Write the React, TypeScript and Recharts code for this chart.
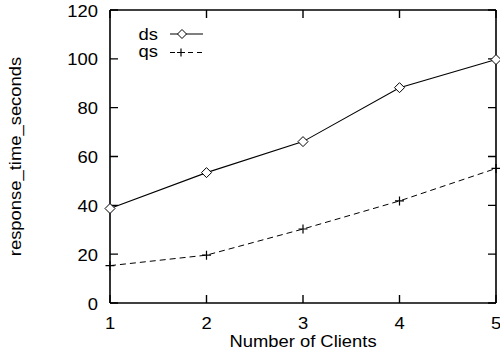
import { Legend, Line, LineChart, ReferenceLine, XAxis, YAxis } from 'recharts'

const clients = [1, 2, 3, 4, 5]
const dsTimes = [38.7, 53.4, 66.1, 88.2, 99.7]
const qsTimes = [15.3, 19.6, 30.3, 41.8, 55.1]
const xTicks = [1, 2, 3, 4, 5]
const yTicks = [0, 20, 40, 60, 80, 100, 120]

const data = clients.map((c, i) => ({ clients: c, ds: dsTimes[i], qs: qsTimes[i] }))

const FONT = '"Liberation Sans", Arial, Helvetica, sans-serif'
const SX = 1.15 // glyphs are a bit wider than plain Arial
const TICK = 8

type TxtProps = {
  x: number
  y: number
  anchor?: 'start' | 'middle' | 'end'
  rotate?: boolean
  children: string | number
}

const Txt = ({ x, y, anchor = 'middle', rotate, children }: TxtProps) => (
  <text
    transform={`translate(${x},${y})${rotate ? ' rotate(-90)' : ''} scale(${SX},1)`}
    textAnchor={anchor}
    fontFamily={FONT}
    fontSize={16}
    fill="#000"
  >
    {children}
  </text>
)

const BottomLabel = (props: any) => (
  <Txt x={props.x} y={props.y + 26}>{props.payload.value}</Txt>
)

const LeftLabel = (props: any) => (
  <Txt x={props.x - 12} y={props.y + 6.5} anchor="end">{props.payload.value}</Txt>
)

// short inward marks at both ends of a reference line (gnuplot mirrored ticks)
const VTicks = (p: any) => {
  const top = Math.min(p.y1, p.y2)
  const bot = Math.max(p.y1, p.y2)
  return (
    <path
      d={`M${p.x1},${bot}V${bot - TICK}M${p.x1},${top}V${top + TICK}`}
      stroke="#000"
      strokeWidth={1.4}
    />
  )
}

const HTicks = (p: any) => {
  const left = Math.min(p.x1, p.x2)
  const right = Math.max(p.x1, p.x2)
  return (
    <path
      d={`M${left},${p.y1}H${left + TICK}M${right},${p.y1}H${right - TICK}`}
      stroke="#000"
      strokeWidth={1.4}
    />
  )
}

const Diamond = ({ cx, cy, size = 5 }: any) => (
  <path
    d={`M${cx},${cy - size}L${cx + size},${cy}L${cx},${cy + size}L${cx - size},${cy}Z`}
    fill="#fff"
    stroke="#000"
    strokeWidth={1}
  />
)

const Plus = ({ cx, cy, size = 4.5 }: any) => (
  <path
    d={`M${cx - size},${cy}H${cx + size}M${cx},${cy - size}V${cy + size}`}
    stroke="#000"
    strokeWidth={1.2}
    fill="none"
  />
)

const KeyBox = () => (
  <svg width={220} height={70} style={{ display: 'block' }}>
    <Txt x={158} y={40} anchor="end">ds</Txt>
    <line x1={170} y1={34} x2={203} y2={34} stroke="#000" strokeWidth={1.2} />
    <Diamond cx={182} cy={34} size={4.5} />
    <Txt x={158} y={57} anchor="end">qs</Txt>
    <line
      x1={170}
      y1={52.5}
      x2={203}
      y2={52.5}
      stroke="#000"
      strokeWidth={1}
      strokeDasharray="5 4"
    />
    <Plus cx={181} cy={52.5} size={4} />
  </svg>
)

const YTitle = ({ viewBox }: any) => (
  <Txt x={21} y={viewBox.y + viewBox.height / 2} rotate>
    response_time_seconds
  </Txt>
)

const XTitle = ({ viewBox }: any) => (
  <Txt x={viewBox.x + viewBox.width / 2} y={347}>
    Number of Clients
  </Txt>
)

export default function App() {
  return (
    <div style={{ position: 'absolute', left: 0, top: 0, background: '#fff' }}>
      <LineChart
        width={500}
        height={355}
        data={data}
        margin={{ top: 10, right: 4, bottom: 0, left: 0 }}
      >
        <XAxis
          dataKey="clients"
          type="number"
          domain={[1, 5]}
          ticks={xTicks}
          interval={0}
          height={52}
          tickSize={0}
          tickMargin={0}
          tickLine={false}
          tick={BottomLabel}
          axisLine={false}
          label={XTitle}
        />
        <YAxis
          type="number"
          domain={[0, 120]}
          ticks={yTicks}
          interval={0}
          width={110}
          tickSize={0}
          tickMargin={0}
          tickLine={false}
          tick={LeftLabel}
          axisLine={false}
          label={YTitle}
        />
        {xTicks.map((t) => (
          <ReferenceLine key={`xt${t}`} x={t} shape={VTicks} />
        ))}
        {yTicks.map((t) => (
          <ReferenceLine key={`yt${t}`} y={t} shape={HTicks} />
        ))}
        {/* plot border */}
        <ReferenceLine x={1} stroke="#000" strokeWidth={1.6} />
        <ReferenceLine x={5} stroke="#000" strokeWidth={1.6} />
        <ReferenceLine y={0} stroke="#000" strokeWidth={1.6} />
        <ReferenceLine y={120} stroke="#000" strokeWidth={1.6} />
        <Legend
          layout="horizontal"
          verticalAlign="middle"
          align="center"
          content={() => <KeyBox />}
          wrapperStyle={{ top: 0, left: 0, width: 220, height: 70 }}
        />
        <Line
          type="linear"
          dataKey="ds"
          stroke="#000"
          strokeWidth={1.1}
          dot={<Diamond />}
          activeDot={false}
          isAnimationActive={false}
        />
        <Line
          type="linear"
          dataKey="qs"
          stroke="#000"
          strokeWidth={1}
          strokeDasharray="6 4"
          dot={<Plus />}
          activeDot={false}
          isAnimationActive={false}
        />
      </LineChart>
    </div>
  )
}
